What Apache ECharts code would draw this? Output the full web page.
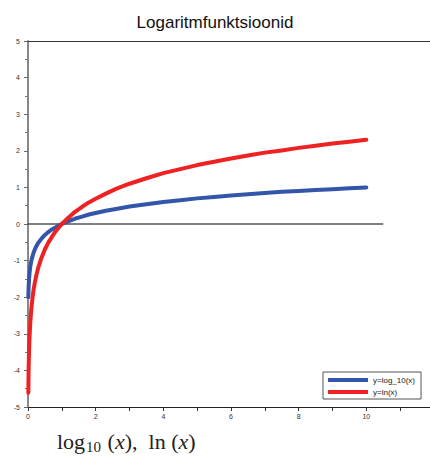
<!DOCTYPE html>
<html>
<head>
<meta charset="utf-8">
<script src="https://cdn.jsdelivr.net/npm/echarts@6/dist/echarts.min.js"></script>
<style>
  html, body { margin: 0; padding: 0; background: #fff; }
  #chart { width: 430px; height: 457px; }
</style>
</head>
<body>
<div id="chart"></div>
<script>
var xs = [0.01, 0.015, 0.02, 0.03, 0.04, 0.05, 0.07, 0.1, 0.13, 0.16, 0.2, 0.25, 0.3, 0.4, 0.5, 0.6, 0.7, 0.8, 0.9, 1,
  1.2, 1.4, 1.6, 1.8, 2, 2.3, 2.6, 3, 3.5, 4, 4.5, 5, 5.5, 6, 6.5, 7, 7.5, 8, 8.5, 9, 9.5, 10];
var log10Vals = [-2, -1.82, -1.70, -1.52, -1.40, -1.30, -1.15, -1, -0.89, -0.80, -0.70, -0.60, -0.52, -0.40, -0.30, -0.22, -0.15, -0.10, -0.05, 0,
  0.08, 0.15, 0.20, 0.26, 0.30, 0.36, 0.41, 0.48, 0.54, 0.60, 0.65, 0.70, 0.74, 0.78, 0.81, 0.85, 0.88, 0.90, 0.93, 0.95, 0.98, 1.00];
var lnVals = [-4.61, -4.20, -3.91, -3.51, -3.22, -3.00, -2.66, -2.30, -2.04, -1.83, -1.61, -1.39, -1.20, -0.92, -0.69, -0.51, -0.36, -0.22, -0.11, 0,
  0.18, 0.34, 0.47, 0.59, 0.69, 0.83, 0.96, 1.10, 1.25, 1.39, 1.50, 1.61, 1.70, 1.79, 1.87, 1.95, 2.01, 2.08, 2.14, 2.20, 2.25, 2.30];
var zeroLine = [[0, 0], [10.5, 0]];
var seriesNames = ['y=log_10(x)', 'y=ln(x)'];

function pairs(vals) {
  return xs.map(function(x, i) { return [x, vals[i]]; });
}

var chart = echarts.init(document.getElementById('chart'), null, { renderer: 'svg' });
chart.setOption({
  animation: false,
  title: {
    text: 'Logaritmfunktsioonid',
    left: 'center',
    top: 9,
    textStyle: { fontFamily: 'Liberation Sans', fontSize: 17, fontWeight: 'normal', color: '#111' }
  },
  grid: { left: 28, top: 41, right: -4, bottom: 50, outerBoundsMode: 'none', containLabel: false },
  legend: {
    data: seriesNames,
    orient: 'vertical',
    left: 323,
    top: 372,
    width: 105,
    icon: 'rect',
    itemWidth: 40,
    itemHeight: 4,
    itemGap: 4,
    padding: [4, 6, 3, 5],
    borderColor: '#555',
    borderWidth: 1,
    backgroundColor: '#fff',
    textStyle: { fontFamily: 'Liberation Sans', fontSize: 8, color: '#222' }
  },
  xAxis: [{
    type: 'value',
    min: 0,
    max: 12,
    interval: 2,
    axisLine: { onZero: false, lineStyle: { color: '#222', width: 1 } },
    axisTick: { length: 4, lineStyle: { color: '#333' } },
    minorTick: { show: true, splitNumber: 2, length: 4, lineStyle: { color: '#333' } },
    splitLine: { show: false },
    axisLabel: {
      fontFamily: 'Liberation Sans', fontSize: 7, color: '#333', margin: 6,
      formatter: function(v) { return v > 10 ? '' : String(v); }
    }
  }, {
    type: 'value',
    position: 'top',
    min: 0,
    max: 12,
    axisLine: { show: true, onZero: false, lineStyle: { color: '#333', width: 1 } },
    axisTick: { show: false },
    axisLabel: { show: false },
    splitLine: { show: false }
  }],
  yAxis: {
    type: 'value',
    min: -5,
    max: 5,
    interval: 1,
    axisLine: { show: true, onZero: false, lineStyle: { color: '#888', width: 2 } },
    axisTick: { length: 4, lineStyle: { color: '#666' } },
    minorTick: { show: true, splitNumber: 2, length: 3, lineStyle: { color: '#777' } },
    splitLine: { show: false },
    axisLabel: { fontFamily: 'Liberation Sans', fontSize: 7, color: '#333', margin: 8 }
  },
  series: [{
    type: 'line',
    data: zeroLine,
    symbol: 'none',
    silent: true,
    lineStyle: { color: '#000', width: 1 },
    z: 1
  }, {
    name: seriesNames[0],
    type: 'line',
    data: pairs(log10Vals),
    symbol: 'none',
    color: '#3355aa',
    lineStyle: { color: '#3355aa', width: 4, join: 'round', cap: 'round' },
    z: 2
  }, {
    name: seriesNames[1],
    type: 'line',
    data: pairs(lnVals),
    symbol: 'none',
    color: '#ee2222',
    lineStyle: { color: '#ee2222', width: 4, join: 'round', cap: 'round' },
    z: 3
  }],
  graphic: [{
    type: 'text',
    left: 57,
    top: 430,
    style: {
      text: '{a|log}{s|10}{a| (}{i|x}{a|),  ln (}{i|x}{a|)}',
      fill: '#222',
      rich: {
        a: { fontFamily: 'Liberation Serif', fontSize: 22, fill: '#222' },
        s: { fontFamily: 'Liberation Serif', fontSize: 15, fill: '#222', padding: [12, 1, 0, 1] },
        i: { fontFamily: 'Liberation Serif', fontSize: 22, fontStyle: 'italic', fill: '#222' }
      }
    }
  }]
});
</script>
</body>
</html>
